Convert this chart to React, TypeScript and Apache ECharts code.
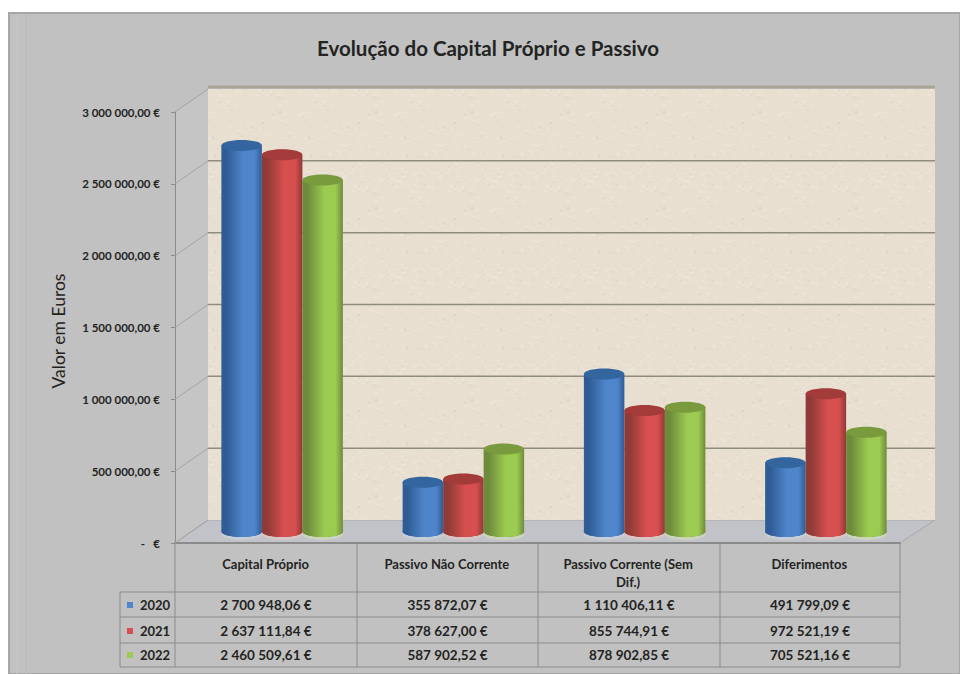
import React, { useEffect, useRef } from "react";
import * as echarts from "echarts";

const categories = ["Capital Próprio", "Passivo Não Corrente", "Passivo Corrente (Sem\nDif.)", "Diferimentos"];
const years = ["2020", "2021", "2022"];
const values2020 = [2700948.06, 355872.07, 1110406.11, 491799.09];
const values2021 = [2637111.84, 378627.0, 855744.91, 972521.19];
const values2022 = [2460509.61, 587902.52, 878902.85, 705521.16];
const valuesByYear = [values2020, values2021, values2022];
const tickValues = [0, 500000, 1000000, 1500000, 2000000, 2500000, 3000000];

const FONT = "Lato";
const TEXT = "#23241f";

// Plot box of the front plane and the depth of the 3D box behind it
const LEFT = 175;
const RIGHT = 900;
const TOP = 112;
const BOTTOM = 543;
const DEPTH_X = 33;
const DEPTH_Y = -23;
const BAR_W = 40.5;
const BAR_RY = 5.5;
const BAR_LIFT = -9.5;
const WALL_RIGHT = 935;

const palettes = [
  { edge: "#2f5c95", mid: "#4f86cb", cap: "#33659f", glow: "#c6ced8" },
  { edge: "#8e3a36", mid: "#d74f4e", cap: "#a23b39", glow: "#d8c6c6" },
  { edge: "#6d8b3a", mid: "#9ccb52", cap: "#7a9a3e", glow: "#cdd4bd" },
];

const fmtEuro = (v: number) => {
  const [int, dec] = v.toFixed(2).split(".");
  return `${int.replace(/\B(?=(\d{3})+$)/g, " ")},${dec} €`;
};

// Speckled paper fill of the back wall
function paperTexture() {
  const size = 96;
  const c = document.createElement("canvas");
  c.width = size;
  c.height = size;
  const ctx = c.getContext("2d")!;
  ctx.fillStyle = "#e8dfd1";
  ctx.fillRect(0, 0, size, size);
  let seed = 17;
  for (let i = 0; i < 260; i++) {
    seed = (seed * 137 + 59) % 2053;
    const x = seed % size;
    seed = (seed * 137 + 59) % 2053;
    const y = seed % size;
    ctx.fillStyle = i % 3 === 0 ? "rgba(190,178,158,0.14)" : "rgba(240,235,224,0.35)";
    ctx.fillRect(x, y, 2 + (i % 3), 1 + (i % 2));
  }
  return c;
}

function tableGraphics() {
  const cols = [LEFT, 357, 538, 720, RIGHT];
  const rows = [592, 617, 643, 667];
  const rowText = [605, 631, 655];
  const legendLeft = 120;
  const stroke = { stroke: "#8b8b8b", lineWidth: 1 };
  const out: any[] = [];
  cols.forEach((x) => out.push({ type: "line", shape: { x1: x, y1: BOTTOM, x2: x, y2: rows[3] }, style: stroke }));
  rows.forEach((y) => out.push({ type: "line", shape: { x1: legendLeft, y1: y, x2: RIGHT, y2: y }, style: stroke }));
  out.push({ type: "line", shape: { x1: legendLeft, y1: rows[0], x2: legendLeft, y2: rows[3] }, style: stroke });
  years.forEach((year, r) => {
    const p = palettes[r];
    out.push({ type: "rect", shape: { x: 127, y: rowText[r] - 3, width: 6, height: 6 }, style: { fill: p.mid } });
    out.push({
      type: "text",
      x: 155,
      y: rowText[r],
      style: { text: year, fill: TEXT, font: `bold 13px ${FONT}`, textAlign: "center", textVerticalAlign: "middle" },
    });
    valuesByYear[r].forEach((v, c) => {
      out.push({
        type: "text",
        x: (cols[c] + cols[c + 1]) / 2,
        y: rowText[r],
        style: { text: fmtEuro(v), fill: TEXT, font: `bold 13.5px ${FONT}`, textAlign: "center", textVerticalAlign: "middle" },
      });
    });
  });
  return out;
}

function wallGraphics() {
  return [
    {
      type: "polygon",
      shape: { points: [[LEFT, TOP], [LEFT + DEPTH_X, TOP + DEPTH_Y], [LEFT + DEPTH_X, BOTTOM + DEPTH_Y], [LEFT, BOTTOM]] },
      style: { fill: "#c5c5c5" },
    },
    {
      type: "polygon",
      shape: { points: [[LEFT, BOTTOM], [LEFT + DEPTH_X, BOTTOM + DEPTH_Y], [WALL_RIGHT, BOTTOM + DEPTH_Y], [RIGHT, BOTTOM]] },
      style: { fill: "#c2c3c8", stroke: "#a9a9a9", lineWidth: 1 },
    },
    {
      type: "rect",
      shape: { x: LEFT + DEPTH_X, y: TOP + DEPTH_Y, width: WALL_RIGHT - LEFT - DEPTH_X, height: BOTTOM - TOP },
      style: { fill: { image: paperTexture(), repeat: "repeat" } },
    },
    {
      type: "line",
      shape: { x1: LEFT + DEPTH_X, y1: TOP + DEPTH_Y - 2, x2: WALL_RIGHT, y2: TOP + DEPTH_Y - 2 },
      style: { stroke: "#a9a59a", lineWidth: 3 },
    },
  ];
}

// One cylinder per category, placed at mid depth of the box
function cylinder(seriesIndex: number) {
  return (params: any, api: any) => {
    const cat = api.value(0);
    const [cx0, top0] = api.coord([cat, api.value(1)]);
    const [, base0] = api.coord([cat, 0]);
    const cx = cx0 + DEPTH_X / 2 + (seriesIndex - 1) * BAR_W;
    const top = top0 + BAR_LIFT;
    const base = base0 + DEPTH_Y / 2;
    const p = palettes[seriesIndex];
    const x = cx - BAR_W / 2;
    const fill = new echarts.graphic.LinearGradient(0, 0, 1, 0, [
      { offset: 0, color: p.edge },
      { offset: 0.12, color: p.edge },
      { offset: 0.55, color: p.mid },
      { offset: 0.82, color: p.mid },
      { offset: 1, color: p.edge },
    ]);
    return {
      type: "group",
      children: [
        { type: "ellipse", shape: { cx, cy: base + 3, rx: BAR_W / 2, ry: BAR_RY }, style: { fill: p.glow } },
        { type: "ellipse", shape: { cx, cy: base, rx: BAR_W / 2, ry: BAR_RY }, style: { fill: p.edge } },
        { type: "rect", shape: { x, y: top, width: BAR_W, height: base - top }, style: { fill } },
        { type: "ellipse", shape: { cx, cy: base, rx: BAR_W / 2, ry: BAR_RY }, style: { fill } },
        { type: "ellipse", shape: { cx, cy: top, rx: BAR_W / 2, ry: BAR_RY }, style: { fill: p.cap } },
      ],
    };
  };
}

// Gridline running along the side wall and across the back wall
function gridRail(_params: any, api: any) {
  const [x0, y] = api.coord([0, api.value(0)]);
  const left = x0 - api.size([1, 0])[0] / 2;
  const backX = left + DEPTH_X;
  const backY = y + DEPTH_Y;
  const style = { stroke: "#8f8c80", lineWidth: 1.5 };
  const side = { stroke: "#a3a3a3", lineWidth: 1 };
  const children: any[] = [
    { type: "line", shape: { x1: left, y1: y, x2: backX, y2: backY }, style: side },
  ];
  if (api.value(0) > 0 && api.value(0) < 3000000) {
    children.push({ type: "line", shape: { x1: backX, y1: backY, x2: WALL_RIGHT, y2: backY }, style });
  }
  return { type: "group", children };
}

export default function App() {
  const ref = useRef<HTMLDivElement>(null);

  useEffect(() => {
    const chart = echarts.init(ref.current!, null, { renderer: "svg" });
    chart.setOption({
      animation: false,
      backgroundColor: "#ffffff",
      title: {
        text: "Evolução do Capital Próprio e Passivo",
        left: 483,
        top: 32,
        textAlign: "center",
        textStyle: { fontFamily: FONT, fontWeight: "bold", fontSize: 20.5, color: TEXT },
      },
      grid: { left: LEFT, right: 960 - RIGHT, top: TOP, bottom: 674 - BOTTOM },
      xAxis: {
        type: "category",
        data: categories,
        axisLine: { lineStyle: { color: "#8b8b8b", width: 2 } },
        axisTick: { show: false },
        axisLabel: {
          margin: 12,
          fontFamily: FONT,
          fontWeight: "bold",
          fontSize: 13,
          lineHeight: 18,
          color: TEXT,
          verticalAlign: "top",
          interval: 0,
        },
      },
      yAxis: {
        type: "value",
        min: 0,
        max: 3000000,
        interval: 500000,
        name: "Valor em Euros",
        nameLocation: "middle",
        nameGap: 108,
        nameRotate: 90,
        nameTextStyle: { fontFamily: FONT, fontWeight: "normal", fontSize: 17.5, color: TEXT, padding: [0, 7, 0, 0] },
        axisLine: { show: true, lineStyle: { color: "#8b8b8b" } },
        axisTick: { show: true, length: 4, lineStyle: { color: "#8b8b8b" } },
        axisLabel: {
          margin: 15,
          fontFamily: FONT,
          fontWeight: "bold",
          fontSize: 11.5,
          color: TEXT,
          formatter: (v: number) => (v === 0 ? "-   €" : fmtEuro(v)),
        },
        splitLine: { show: false },
      },
      graphic: [
        {
          type: "rect",
          z: -10,
          shape: { x: 9, y: 13, width: 951, height: 661 },
          style: { fill: "#c1c1c1", stroke: "#a6a6a6", lineWidth: 2 },
        },
        { type: "line", z: -9, shape: { x1: 17, y1: 14, x2: 17, y2: 674 }, style: { stroke: "#c9c9c9", lineWidth: 1 } },
        { type: "line", z: -9, shape: { x1: 26, y1: 14, x2: 26, y2: 674 }, style: { stroke: "#bababa", lineWidth: 1 } },
        ...wallGraphics(),
        ...tableGraphics(),
      ],
      series: [
        {
          type: "custom",
          coordinateSystem: "cartesian2d",
          encode: { y: 0 },
          data: tickValues.map((v) => [v]),
          renderItem: gridRail,
          silent: true,
          z: 1,
        },
        ...years.map((year, i) => ({
          type: "custom",
          name: year,
          coordinateSystem: "cartesian2d",
          encode: { x: 0, y: 1 },
          data: valuesByYear[i].map((v, c) => [c, v]),
          renderItem: cylinder(i),
          z: 3 + i,
        })),
      ],
    });
    return () => chart.dispose();
  }, []);

  return <div ref={ref} style={{ position: "fixed", left: 0, top: 0, width: 960, height: 674 }} />;
}
